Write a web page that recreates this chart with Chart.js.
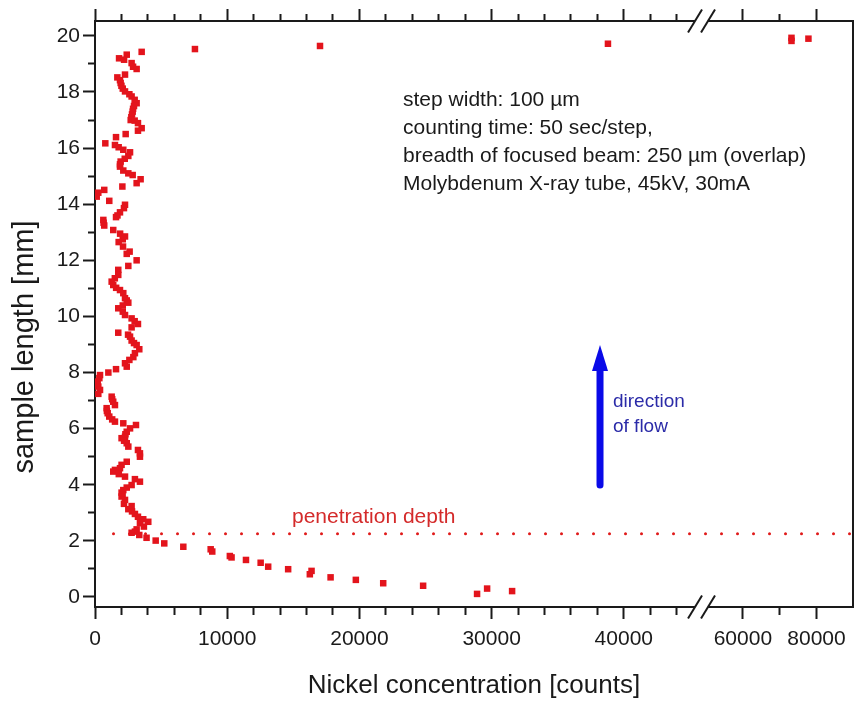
<!DOCTYPE html>
<html>
<head>
<meta charset="utf-8">
<script src="https://cdn.jsdelivr.net/npm/chart.js@4"></script>
<style>
  html, body { margin: 0; padding: 0; background: #fff; }
  canvas { display: block; }
</style>
</head>
<body>
<canvas id="chart" width="855" height="701"></canvas>
<script>
// Nickel line scan along the sample (counts vs. position in mm)
const nickelCounts = [
  77800, 73200, 73200, 38800, 17020, 7560,
  3530, 2400, 1820, 2200, 2770, 2880, 3150, 2270, 1690, 1890, 1940, 2000, 2100, 2270,
  2600, 2770, 3000, 3150, 2950, 2880, 2850, 2800, 2750, 2700, 3000, 3250, 3530, 3250,
  2320, 1590, 780, 1510, 1790, 2140, 2650, 2520, 2250, 1940, 1890, 1890, 2140, 2520,
  2850, 3450, 3150, 2070, 700, 250, 130, 1080, 2270, 2190, 1890, 1700, 1590, 630,
  650, 700, 1380, 1900, 2270, 2100, 1790, 2120, 2620, 2400, 3150, 2520, 1760, 1760,
  1500, 1260, 1380, 1600, 1890, 2140, 2270, 2400, 2520, 2100, 1760, 2100, 2270, 2770,
  3000, 3250, 2770, 1760, 2500, 2650, 2770, 2950, 3150, 3350, 3020, 2900, 2600, 2270,
  2400, 1590, 1010, 380, 330, 175, 200, 250, 380, 250, 1260, 1300, 1380, 1510,
  880, 900, 960, 1080, 1300, 1510, 2140, 3100, 2650, 2400, 2300, 2270, 2010, 2200,
  2400, 2520, 3250, 3400, 3400, 2400, 2010, 1890, 1510, 1380, 1800, 2270, 3020, 3400,
  2770, 2400, 2140, 2010, 2090, 2010, 2270, 2190, 2770, 2520, 2800, 3020, 3250, 3650,
  4030, 3400, 3700, 3150, 3020, 2770, 3350, 3900, 4590, 5240, 6680, 8750, 8870, 10200,
  10330, 11420, 12530, 13100, 14610, 16380, 16250, 17820, 19730, 21800, 24820, 29660, 31550, 28900
];
const sampleLengthMm = [
  19.90, 19.93, 19.82, 19.72, 19.64, 19.53,
  19.43, 19.33, 19.20, 19.15, 19.03, 18.90, 18.82, 18.62, 18.52, 18.42, 18.32, 18.22, 18.12, 18.02,
  17.92, 17.84, 17.72, 17.60, 17.50, 17.40, 17.30, 17.20, 17.10, 17.00, 16.98, 16.89, 16.71, 16.62,
  16.50, 16.39, 16.17, 16.11, 16.03, 15.94, 15.85, 15.72, 15.62, 15.52, 15.42, 15.34, 15.20, 15.10,
  15.04, 14.89, 14.75, 14.63, 14.51, 14.41, 14.27, 14.12, 13.98, 13.86, 13.71, 13.60, 13.54, 13.44,
  13.34, 13.24, 13.08, 12.95, 12.85, 12.75, 12.65, 12.49, 12.31, 12.23, 12.00, 11.80, 11.66, 11.48,
  11.36, 11.24, 11.12, 11.02, 10.94, 10.83, 10.65, 10.57, 10.49, 10.39, 10.29, 10.17, 10.05, 9.93,
  9.83, 9.73, 9.61, 9.42, 9.35, 9.28, 9.14, 9.05, 8.98, 8.83, 8.69, 8.55, 8.45, 8.33,
  8.21, 8.12, 8.00, 7.91, 7.80, 7.68, 7.58, 7.50, 7.38, 7.24, 7.14, 7.05, 6.96, 6.84,
  6.73, 6.63, 6.55, 6.43, 6.33, 6.25, 6.19, 6.13, 6.01, 5.89, 5.80, 5.71, 5.66, 5.57,
  5.48, 5.36, 5.24, 5.12, 5.00, 4.82, 4.71, 4.59, 4.53, 4.47, 4.38, 4.29, 4.20, 4.11,
  3.99, 3.90, 3.81, 3.72, 3.64, 3.58, 3.46, 3.32, 3.24, 3.13, 3.05, 2.96, 2.86, 2.77,
  2.68, 2.63, 2.51, 2.41, 2.33, 2.29, 2.21, 2.11, 2.01, 1.91, 1.79, 1.70, 1.62, 1.46,
  1.41, 1.32, 1.22, 1.08, 0.99, 0.93, 0.81, 0.70, 0.61, 0.49, 0.40, 0.30, 0.21, 0.11
];

const penetrationDepthMm = 2.25;
const penetrationLineX = [1400, 89900];

const xLabelTicks = [0, 10000, 20000, 30000, 40000, 60000, 80000];
const xMinorTicks = [2000, 4000, 6000, 8000, 12000, 14000, 16000, 18000, 22000, 24000, 26000, 28000,
                     32000, 34000, 36000, 38000, 42000, 44000, 70000];
const yTicks = [0, 1, 2, 3, 4, 5, 6, 7, 8, 9, 10, 11, 12, 13, 14, 15, 16, 17, 18, 19, 20];
const yLabelTicks = [0, 2, 4, 6, 8, 10, 12, 14, 16, 18, 20];

const xRange = [0, 89900];
const yRange = [-0.357, 20.53];
// x axis is split: 0..45840 on the left part, 48640..89900 on the right part
const xBreak = { from: 45840, to: 48640, at: 0.7995 };

const infoLines = [
  'step width: 100 µm',
  'counting time: 50 sec/step,',
  'breadth of focused beam: 250 µm (overlap)',
  'Molybdenum X-ray tube, 45kV, 30mA'
];
const infoAnchor = { x: 23300, y: 17.5 };
const penetrationLabel = { text: 'penetration depth', x: 14900, y: 2.64 };
const flowArrow = { x: 38200, from: 3.99, to: 8.98 };
const flowLabel = { lines: ['direction', 'of flow'], x: 39180, y: 6.77 };

// Linear scale with an axis break
class BrokenLinearScale extends Chart.LinearScale {
  _brokenDecimal(v) {
    const b = this.options.axisBreak;
    if (v <= b.from) return (v - this.min) / (b.from - this.min) * b.at;
    if (v >= b.to) return b.at + (v - b.to) / (this.max - b.to) * (1 - b.at);
    return b.at;
  }
  getPixelForValue(value) {
    if (value === null || value === undefined || isNaN(value)) return NaN;
    return this.getPixelForDecimal(this._brokenDecimal(value));
  }
  getValueForPixel(pixel) {
    const d = this.getDecimalForPixel(pixel);
    const b = this.options.axisBreak;
    if (d <= b.at) return this.min + d / b.at * (b.from - this.min);
    return b.to + (d - b.at) / (1 - b.at) * (this.max - b.to);
  }
}
BrokenLinearScale.id = 'brokenLinear';
BrokenLinearScale.defaults = {};
Chart.register(BrokenLinearScale);

const FONT = "'Liberation Sans', Arial, Helvetica, sans-serif";
Chart.defaults.font.family = FONT;
Chart.defaults.color = '#1a1a1a';
const AXIS = '#1a1a1a';

const xAllTicks = [...xLabelTicks, ...xMinorTicks].sort((a, b) => a - b);
const isXMajor = v => xLabelTicks.includes(v);
const isYMajor = v => yLabelTicks.includes(v);

function xAxis(position) {
  const bottom = position === 'bottom';
  return {
    type: 'brokenLinear',
    position,
    min: xRange[0], max: xRange[1],
    bounds: 'data',
    axisBreak: xBreak,
    afterBuildTicks: s => { s.ticks = xAllTicks.map(v => ({ value: v })); },
    afterFit: s => {
      s.height = bottom ? 94 : 21;
      s.paddingLeft = 0;
      s.paddingRight = 0;
    },
    ticks: {
      display: bottom,
      autoSkip: false, maxRotation: 0, padding: 8,
      font: { size: 21 }, color: AXIS,
      callback: v => isXMajor(v) ? String(v) : ''
    },
    grid: {
      drawOnChartArea: false, drawTicks: true, tickLength: 12,
      tickColor: AXIS, tickWidth: 2,
      tickBorderDash: c => (c.tick && !isXMajor(c.tick.value)) ? (bottom ? [7, 100] : [0, 5, 7, 100]) : []
    },
    border: { display: true, color: AXIS, width: 2 }
  };
}

const decor = {
  id: 'decor',
  afterDraw(chart) {
    const { ctx, chartArea: a } = chart;
    const x = chart.scales.x, y = chart.scales.y;
    ctx.save();

    // axis break marks on bottom and top axes
    const bx = x.getPixelForDecimal(xBreak.at);
    [a.bottom, a.top].forEach(yy => {
      ctx.fillStyle = '#fff';
      ctx.fillRect(bx - 6, yy - 3, 13, 6);
      ctx.strokeStyle = AXIS; ctx.lineWidth = 2; ctx.lineCap = 'butt';
      [bx - 6, bx + 7].forEach(cx => {
        ctx.beginPath();
        ctx.moveTo(cx - 7, yy + 11.5);
        ctx.lineTo(cx + 7, yy - 11.5);
        ctx.stroke();
      });
    });

    // info text block
    ctx.fillStyle = '#1a1a1a';
    ctx.font = '21px ' + FONT;
    ctx.textAlign = 'left'; ctx.textBaseline = 'alphabetic';
    const ix = x.getPixelForValue(infoAnchor.x), iy = y.getPixelForValue(infoAnchor.y);
    infoLines.forEach((t, i) => ctx.fillText(t, ix, iy + i * 28));

    // penetration depth label
    ctx.fillStyle = '#d42a2a';
    ctx.fillText(penetrationLabel.text, x.getPixelForValue(penetrationLabel.x), y.getPixelForValue(penetrationLabel.y));

    // flow direction arrow
    const ax = x.getPixelForValue(flowArrow.x);
    const ay0 = y.getPixelForValue(flowArrow.from), ay1 = y.getPixelForValue(flowArrow.to);
    ctx.strokeStyle = '#0a0ae8'; ctx.fillStyle = '#0a0ae8';
    ctx.lineWidth = 7; ctx.lineCap = 'round';
    ctx.beginPath(); ctx.moveTo(ax, ay0); ctx.lineTo(ax, ay1 + 20); ctx.stroke();
    ctx.beginPath();
    ctx.moveTo(ax, ay1); ctx.lineTo(ax - 8, ay1 + 26); ctx.lineTo(ax + 8, ay1 + 26);
    ctx.closePath(); ctx.fill();

    ctx.fillStyle = '#2b2ba8';
    ctx.font = '19px ' + FONT;
    const fx = x.getPixelForValue(flowLabel.x), fy = y.getPixelForValue(flowLabel.y);
    flowLabel.lines.forEach((t, i) => ctx.fillText(t, fx, fy + i * 25));

    // axis titles
    ctx.fillStyle = '#1a1a1a';
    ctx.textAlign = 'center'; ctx.textBaseline = 'alphabetic';
    ctx.font = '26px ' + FONT;
    ctx.fillText('Nickel concentration [counts]', (a.left + a.right) / 2, a.bottom + 86);
    ctx.save();
    ctx.translate(a.left - 62, a.top + 326);
    ctx.rotate(-Math.PI / 2);
    ctx.font = '29px ' + FONT;
    ctx.fillText('sample length [mm]', 0, 0);
    ctx.restore();

    ctx.restore();
  }
};

new Chart(document.getElementById('chart'), {
  type: 'scatter',
  data: {
    datasets: [
      {
        label: 'Ni',
        data: nickelCounts.map((v, i) => ({ x: v, y: sampleLengthMm[i] })),
        pointStyle: 'rect',
        pointRadius: 4.6,
        backgroundColor: '#e3141c',
        borderWidth: 0,
        xAxisID: 'x', yAxisID: 'y'
      },
      {
        type: 'line',
        label: 'penetration depth',
        data: penetrationLineX.map(v => ({ x: v, y: penetrationDepthMm })),
        borderColor: '#e01a1a',
        borderWidth: 3,
        borderDash: [0, 16],
        borderCapStyle: 'round',
        pointRadius: 0,
        fill: false,
        xAxisID: 'x', yAxisID: 'y'
      }
    ]
  },
  options: {
    responsive: false,
    animation: false,
    devicePixelRatio: 1,
    layout: { autoPadding: false, padding: { left: 0, right: 2, top: 0, bottom: 0 } },
    plugins: { legend: { display: false }, tooltip: { enabled: false } },
    scales: {
      x: xAxis('bottom'),
      x2: xAxis('top'),
      y: {
        type: 'linear', position: 'left',
        min: yRange[0], max: yRange[1], bounds: 'data',
        afterBuildTicks: s => { s.ticks = yTicks.map(v => ({ value: v })); },
        afterFit: s => { s.width = 95; },
        ticks: {
          autoSkip: false, padding: 3,
          font: { size: 21 }, color: AXIS,
          callback: v => isYMajor(v) ? String(v) : ''
        },
        grid: {
          drawOnChartArea: false, drawTicks: true, tickLength: 12,
          tickColor: AXIS, tickWidth: 2,
          tickBorderDash: c => (c.tick && !isYMajor(c.tick.value)) ? [0, 5, 7, 100] : []
        },
        border: { display: true, color: AXIS, width: 2 }
      },
      y2: {
        type: 'linear', position: 'right',
        min: yRange[0], max: yRange[1],
        afterFit: s => { s.width = 0; },
        ticks: { display: false },
        grid: { drawOnChartArea: false, drawTicks: false },
        border: { display: true, color: AXIS, width: 2 }
      }
    }
  },
  plugins: [decor]
});
</script>
</body>
</html>
